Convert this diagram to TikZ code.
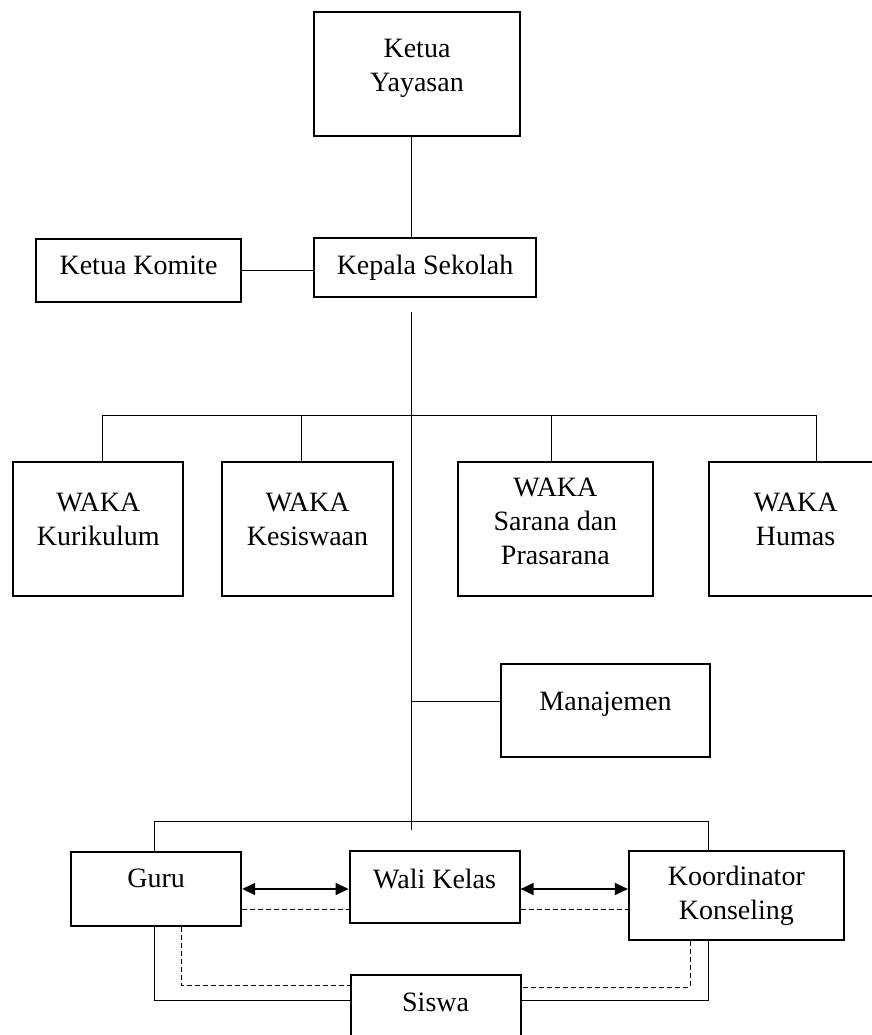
\documentclass[tikz,border=0pt]{standalone}
\usepackage{fontspec}
\setmainfont{Liberation Serif}
\usetikzlibrary{arrows.meta}
\tikzset{
  box/.style={draw, line width=2pt, align=center, inner sep=0pt},
  link/.style={line width=1pt},
  both/.style={line width=1.4pt, {Triangle[length=13pt,width=12pt]}-{Triangle[length=13pt,width=12pt]}},
  dots/.style={line width=1pt, dash pattern=on 5pt off 3pt}
}
\begin{document}
\begin{tikzpicture}[x=1pt, y=-1pt, font=\fontsize{28}{34}\selectfont]
\useasboundingbox (0,0) rectangle (871,1035);
\node[box, minimum width=206, minimum height=124, text depth=17.5pt] (yayasan) at (417,74.5) {Ketua\\Yayasan};
\node[box, minimum width=222, minimum height=59] (kepsek) at (425,267.5) {Kepala Sekolah};
\node[box, minimum width=205, minimum height=63, text depth=11pt] (komite) at (138.5,270.5) {Ketua Komite};
\foreach \n/\x/\w/\lbl in {kur/98.3/170/Kurikulum, kes/307.5/171/Kesiswaan, hum/795.5/173/Humas}
  \node[box, minimum width=\w, minimum height=134, text depth=19pt] (\n) at (\x,528.7) {WAKA\\\lbl};
\node[box, minimum width=195, minimum height=134, text depth=14pt] (sar) at (555.4,528.7) {WAKA\\Sarana dan\\Prasarana};
\node[box, minimum width=209, minimum height=93, text depth=18pt] (man) at (605.5,710.5) {Manajemen};
\node[box, minimum width=170, minimum height=74, text depth=20pt] (guru) at (156.2,888.7) {Guru};
\node[box, minimum width=170, minimum height=72, text depth=17pt] (wali) at (434.6,887) {Wali Kelas};
\node[box, minimum width=215, minimum height=89] (koord) at (736.4,895.5) {Koordinator\\Konseling};
\node[box, minimum width=170, minimum height=72, text depth=17pt] (siswa) at (435.6,1011) {Siswa};

\coordinate (spinetop) at (411.7,312);
\coordinate (spineend) at (411.7,830);
\draw[link] (yayasan.south -| spinetop) -- (kepsek.north -| spinetop);
\draw[link] (komite.east) -- (komite.east -| kepsek.west);
\draw[link] (spinetop) -- (spineend);

\foreach \n/\x in {kur/102.3, kes/301, sar/551.7, hum/816.7} {
  \coordinate (d\n) at (\x,415);
  \draw[link] (d\n) -- (d\n |- \n.north);
}
\draw[link] (dkur) -- (dhum);

\coordinate (manjoint) at (411.7,701);
\draw[link] (manjoint) -- (manjoint -| man.west);

\coordinate (gbus) at (154,821);
\coordinate (kbus) at (708,821);
\draw[link] (gbus |- guru.north) -- (gbus) -- (kbus) -- (kbus |- koord.north);

\coordinate (arrowrow) at (0,889);
\draw[both] (guru.east |- arrowrow) -- (wali.west |- arrowrow);
\draw[both] (wali.east |- arrowrow) -- (koord.west |- arrowrow);

\coordinate (dashrow) at (0,909);
\draw[dots] (guru.east |- dashrow) -- (wali.west |- dashrow);
\draw[dots] (wali.east |- dashrow) -- (koord.west |- dashrow);

\coordinate (gdash) at (181.6,985);
\coordinate (kdash) at (690,987);
\coordinate (gline) at (154,1000);
\coordinate (kline) at (708,1000);
\draw[dots] (gdash |- guru.south) -- (gdash) -- (gdash -| siswa.west);
\draw[dots] (kdash |- koord.south) -- (kdash) -- (kdash -| siswa.east);
\draw[link] (gline |- guru.south) -- (gline) -- (gline -| siswa.west);
\draw[link] (kline |- koord.south) -- (kline) -- (kline -| siswa.east);
\end{tikzpicture}
\end{document}
